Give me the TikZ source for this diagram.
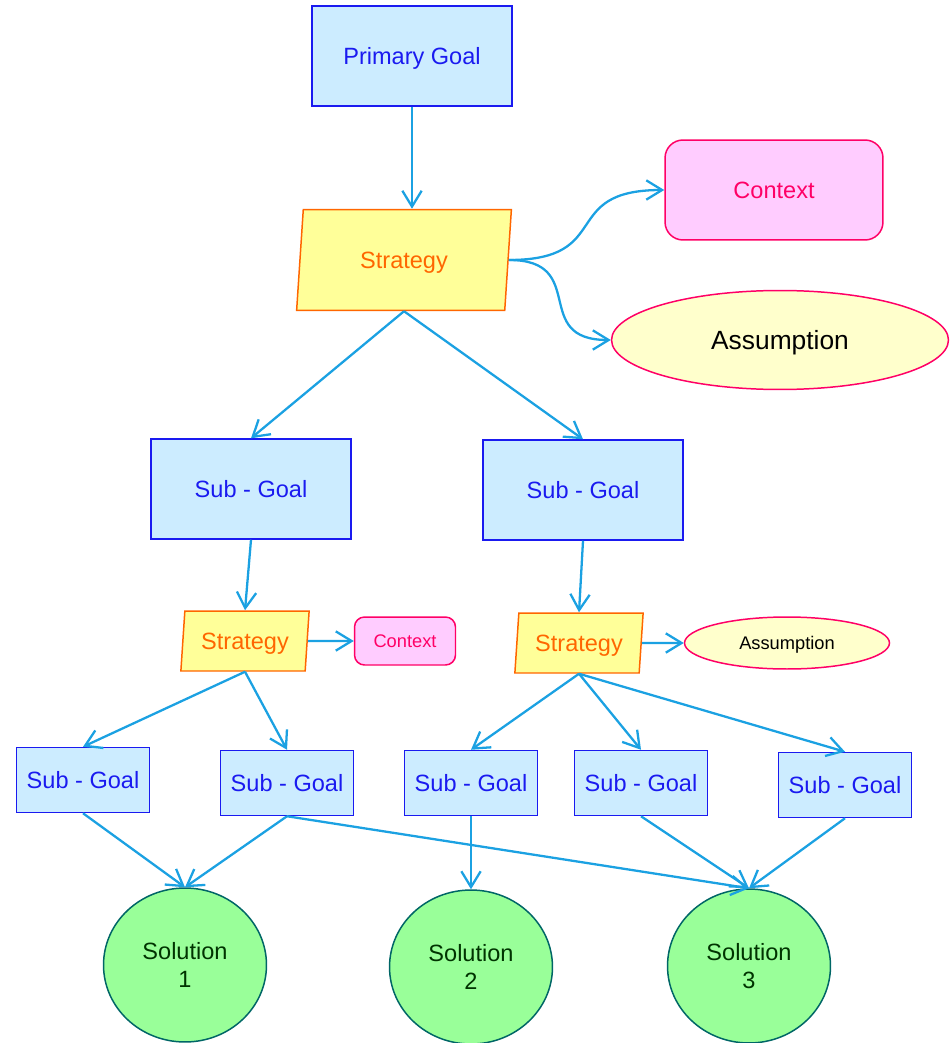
\documentclass[tikz,border=0pt]{standalone}
\usepackage{fontspec}
\setmainfont{Liberation Sans}
\usetikzlibrary{shapes.geometric, arrows.meta}

\definecolor{goalfill}{HTML}{CCECFF}
\definecolor{goalline}{HTML}{1A1AF0}
\definecolor{stratfill}{HTML}{FFFF99}
\definecolor{stratline}{HTML}{FF6600}
\definecolor{ctxfill}{HTML}{FFCCFF}
\definecolor{ctxline}{HTML}{FF0066}
\definecolor{asmfill}{HTML}{FFFFCC}
\definecolor{solfill}{HTML}{99FF99}
\definecolor{solline}{HTML}{006666}
\definecolor{soltext}{HTML}{003300}
\definecolor{linkcol}{HTML}{1BA1E2}

\begin{document}
\begin{tikzpicture}[x = 0.02cm, y = -0.02cm,
	every node/.style = {font = \fontsize{13.4}{16}\selectfont, inner sep = 0pt, text depth = 0pt, line width = 0.85pt},
	goal/.style = {draw = goalline, fill = goalfill, text = goalline, minimum width = 4cm, minimum height = 2cm},
	smallgoal/.style = {goal, minimum width = 2.66cm, minimum height = 1.3cm},
	strategy/.style = {trapezium, trapezium left angle = 80, trapezium right angle = 100, trapezium stretches = true, draw = stratline, fill = stratfill, text = stratline, minimum width = 4.32cm, minimum height = 2.02cm},
	smallstrategy/.style = {strategy, minimum width = 2.58cm, minimum height = 1.2cm},
	context/.style = {draw = ctxline, fill = ctxfill, text = ctxline, rounded corners = 0.36cm, minimum width = 4.36cm, minimum height = 2cm},
	smallcontext/.style = {context, rounded corners = 0.2cm, minimum width = 2.02cm, minimum height = 0.96cm, font = \fontsize{10.4}{12}\selectfont},
	assumption/.style = {ellipse, draw = ctxline, fill = asmfill, text = black, minimum width = 6.74cm, minimum height = 1.98cm, font = \fontsize{15}{18}\selectfont},
	smallassumption/.style = {assumption, minimum width = 4.1cm, minimum height = 1.04cm, font = \fontsize{10.4}{12}\selectfont},
	solution/.style = {ellipse, draw = solline, fill = solfill, text = soltext, align = center, minimum width = 3.26cm, minimum height = 3.08cm},
	link/.style = {draw = linkcol, line width = 1.3pt, -{Straight Barb[length = 9pt, width = 11pt]}}]
\useasboundingbox (0,0) rectangle (951,1043);

% top level
\node[goal] (pgoal) at (412,56) {Primary Goal};
\node[strategy] (strat) at (404,260) {Strategy};
\node[context] (ctx) at (774,190) {Context};
\node[assumption] (asm) at (780,340) {Assumption};

% second level
\node[goal] (sgl) at (251,489) {Sub - Goal};
\node[goal] (sgr) at (583,490) {Sub - Goal};
\node[smallstrategy] (stratl) at (245,641) {Strategy};
\node[smallstrategy] (stratr) at (579,643) {Strategy};
\node[smallcontext] (ctxl) at (405,641) {Context};
\node[smallassumption] (asmr) at (787,643) {Assumption};

% bottom goals and solutions
\foreach \n/\x/\y in {1/83/780, 2/287/783, 3/471/783, 4/641/783, 5/845/785}
	\node[smallgoal] (sg\n) at (\x,\y) {Sub - Goal};
\foreach \n/\x/\y in {1/185/965, 2/471/967, 3/749/966}
	\node[solution] (sol\n) at (\x,\y) {Solution\\\n};

% links
\draw[link] (pgoal.south) -- (strat.north -| pgoal.south);
\draw[link] (strat.east) to[out = 0, in = 180, looseness = 1.6] (ctx.west);
\draw[link] (strat.east) to[out = 0, in = 180, looseness = 1.6] (asm.west);
\draw[link] (stratl.east) -- (ctxl.west);
\draw[link] (stratr.east) -- (asmr.west);
\foreach \from/\to in {strat/sgl, strat/sgr, sgl/stratl, sgr/stratr,
	stratl/sg1, stratl/sg2, stratr/sg3, stratr/sg4, stratr/sg5,
	sg1/sol1, sg2/sol1, sg2/sol3, sg3/sol2, sg4/sol3, sg5/sol3}
{
	\draw[link] (\from.south) -- (\to.north);
}
\end{tikzpicture}
\end{document}
